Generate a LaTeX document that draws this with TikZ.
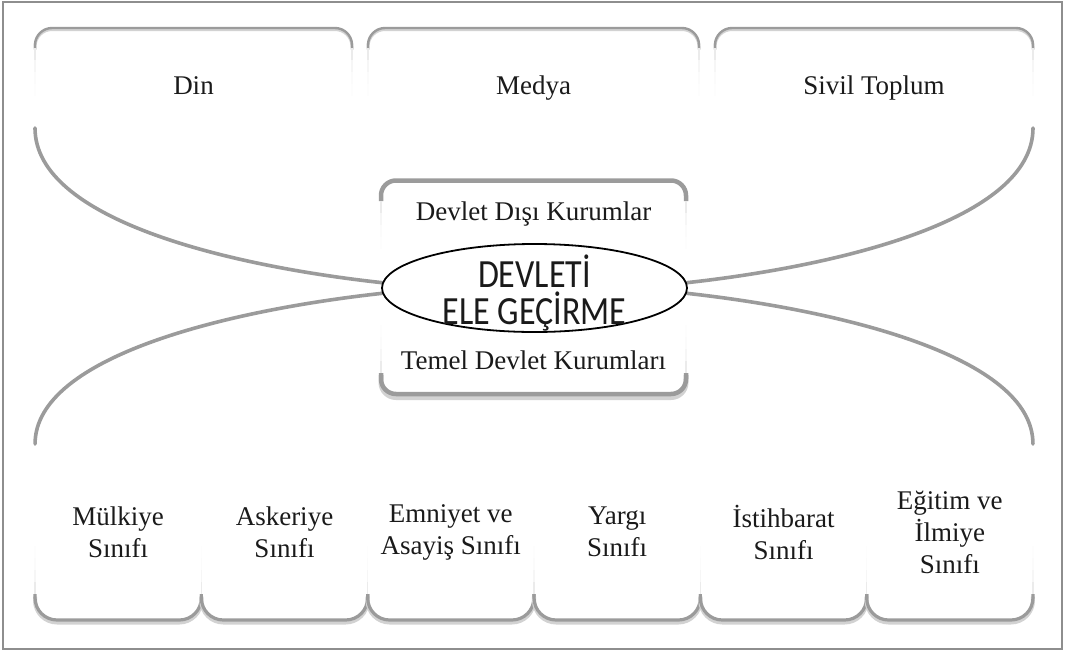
\documentclass[tikz,border=0pt]{standalone}
\usepackage{fontspec}
\setmainfont{Liberation Serif}
\newfontfamily\calib[FakeStretch=0.85]{Carlito}
\usetikzlibrary{shapes.geometric,backgrounds}
\definecolor{linegray}{HTML}{9B9B9B}
\definecolor{shadowgray}{HTML}{D2D2D2}
\definecolor{framegray}{HTML}{8E8E8E}
\definecolor{txt}{HTML}{1A1A1A}
% faded side: #1 anchor, #2 sign (-1 down, 1 up), #3 start offset
\newcommand\fadeseg[3]{%
  \foreach \k/\pc in {0/20,1/9,2/4,3/2}{%
    \draw[linegray!\pc, line width=1.6pt]
      ([yshift={#2*(#3+\k*12)*1pt}]#1) -- ([yshift={#2*(#3+(\k+1)*12)*1pt}]#1);}%
}
\newcommand\topdeco[1]{%
  \draw[shadowgray, line width=3pt, rounded corners=17pt]
    ([yshift=-21.5pt]#1.north west) -- ([yshift=-1.5pt]#1.north west) --
    ([yshift=-1.5pt]#1.north east) -- ([yshift=-21.5pt]#1.north east);
  \draw[linegray, line width=2.4pt, rounded corners=17pt]
    ([yshift=-20pt]#1.north west) -- (#1.north west) --
    (#1.north east) -- ([yshift=-20pt]#1.north east);
  \fadeseg{#1.north west}{-1}{20}\fadeseg{#1.north east}{-1}{20}%
}
\newcommand\botdeco[1]{%
  \draw[shadowgray, line width=4pt, rounded corners=22pt]
    ([yshift=23.5pt]#1.south west) -- ([yshift=-2.5pt]#1.south west) --
    ([yshift=-2.5pt]#1.south east) -- ([yshift=23.5pt]#1.south east);
  \draw[linegray, line width=3.2pt, rounded corners=22pt]
    ([yshift=26pt]#1.south west) -- (#1.south west) --
    (#1.south east) -- ([yshift=26pt]#1.south east);
  \fadeseg{#1.south west}{1}{26}\fadeseg{#1.south east}{1}{26}%
}
\begin{document}
\begin{tikzpicture}[x=1pt,y=-1pt,
  lbl/.style={font=\fontsize{27}{32}\selectfont, text=txt, align=center,
    inner sep=0pt, outer sep=0pt},
  one/.style={text height=18pt, text depth=0pt},
  curve/.style={draw=linegray, line width=3.6pt, line cap=round},
]
\useasboundingbox (0,0) rectangle (1065,654);
\draw[framegray, line width=2pt] (3,1.5) rectangle (1062,649);

% top boxes
\node[lbl, one, minimum width=317pt, minimum height=114pt] (din) at (193.5,85) {Din};
\node[lbl, one, minimum width=331pt, minimum height=114pt] (medya) at (533.5,85) {Medya};
\node[lbl, one, minimum width=318pt, minimum height=114pt] (sivil) at (874,85) {Sivil Toplum};
\topdeco{din}\topdeco{medya}\topdeco{sivil}

% bottom boxes
\node[lbl, minimum width=166.3pt, minimum height=176pt] (mulk)  at (118.2,532) {Mülkiye\\Sınıfı};
\node[lbl, minimum width=166.3pt, minimum height=176pt] (asker) at (284.5,532) {Askeriye\\Sınıfı};
\node[lbl, minimum width=166.3pt, minimum height=176pt] (emn)   at (450.8,532) {Emniyet ve\\Asayiş Sınıfı};
\node[lbl, minimum width=166.3pt, minimum height=176pt] (yargi) at (617.2,532) {Yargı\\Sınıfı};
\node[lbl, minimum width=166.3pt, minimum height=176pt] (istih) at (783.5,532) {İstihbarat\\Sınıfı};
\node[lbl, minimum width=166.3pt, minimum height=176pt] (egit)  at (949.8,532) {Eğitim ve\\İlmiye\\Sınıfı};
\botdeco{mulk}\botdeco{asker}\botdeco{emn}\botdeco{yargi}\botdeco{istih}\botdeco{egit}

% centre box
\node[inner sep=0pt, outer sep=0pt, minimum width=305pt, minimum height=216pt] (ctr) at (533.5,287) {};
\draw[shadowgray, line width=5pt, rounded corners=15pt]
  ([yshift=20pt]ctr.south west) -- ([yshift=-2.5pt]ctr.south west) --
  ([yshift=-2.5pt]ctr.south east) -- ([yshift=20pt]ctr.south east);
\draw[linegray, line width=4.5pt, rounded corners=15pt]
  ([yshift=-22pt]ctr.north west) -- ([yshift=-1.5pt]ctr.north west) --
  ([yshift=-1.5pt]ctr.north east) -- ([yshift=-22pt]ctr.north east);
\draw[linegray, line width=4.5pt, rounded corners=15pt]
  ([yshift=22pt]ctr.south west) -- ([yshift=1pt]ctr.south west) --
  ([yshift=1pt]ctr.south east) -- ([yshift=22pt]ctr.south east);
\fadeseg{ctr.north west}{-1}{22}\fadeseg{ctr.north east}{-1}{22}
\fadeseg{ctr.south west}{1}{22}\fadeseg{ctr.south east}{1}{22}
\node[lbl, one] (ddk) at (533.5,211) {Devlet Dışı Kurumlar};
\node[lbl, one] (tdk) at (533.5,360) {Temel Devlet Kurumları};

% core ellipse
\node[ellipse, draw=black, line width=1.8pt, fill=white, inner sep=0pt,
  minimum width=305pt, minimum height=88pt] (core) at (534.5,288) {};
\node[font=\calib\fontsize{40}{37}\selectfont, align=center, text=txt, inner sep=0pt]
  (corelbl) at (534.5,293) {DEVLETİ\\ELE GEÇİRME};

% connectors
\begin{scope}[on background layer]
\draw[curve] ([yshift=14pt]din.south west) .. controls (35,220) and (230,266) .. (core.178);
\draw[curve] (core.182) .. controls (230,310) and (35,356) .. (mulk.north west);
\draw[curve] ([yshift=14pt]sivil.south east) .. controls (1033,220) and (838,266) .. (core.2);
\draw[curve] (core.-2) .. controls (838,310) and (1033,356) .. (egit.north east);
\end{scope}
\end{tikzpicture}
\end{document}
